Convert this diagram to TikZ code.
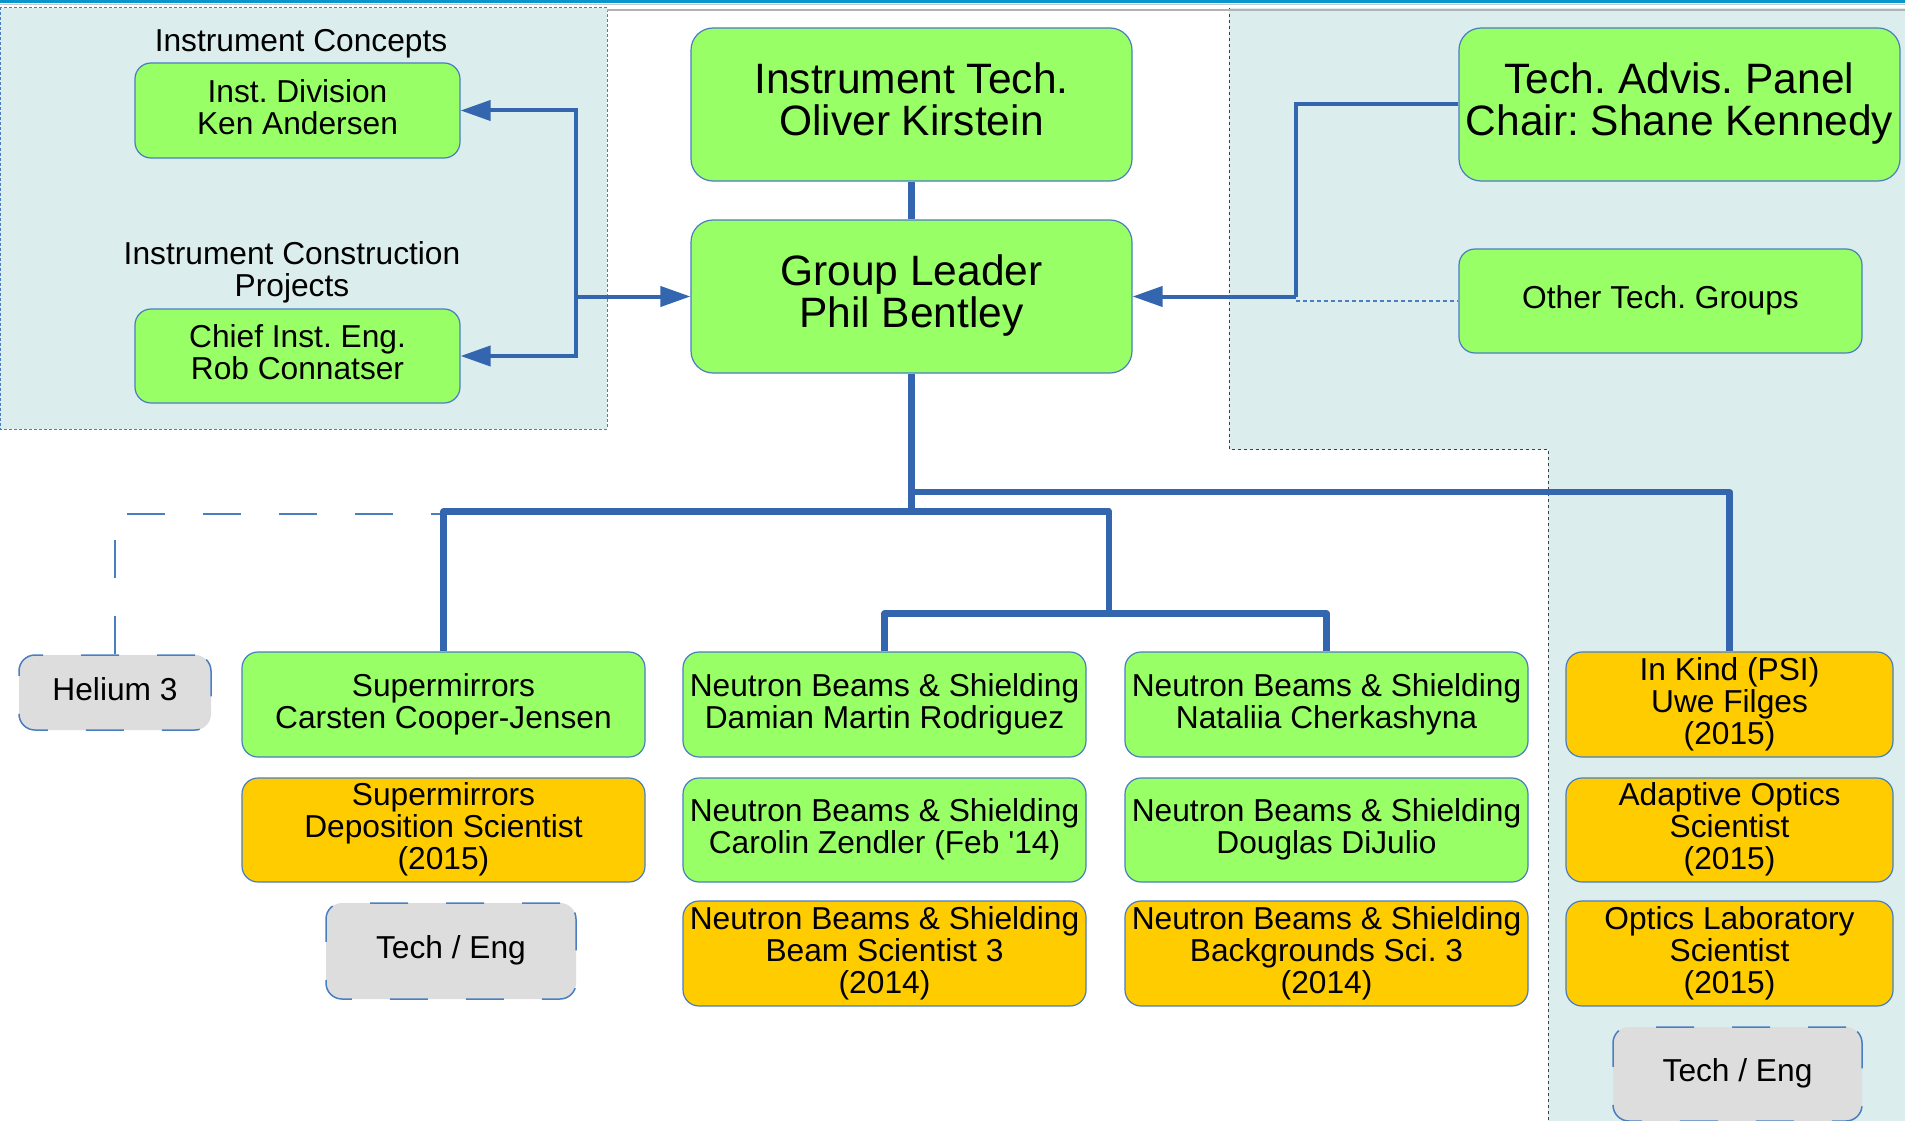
\documentclass[tikz,border=0pt]{standalone}
\usepackage{fontspec}
\setmainfont{Liberation Sans}
\newfontfamily\lsans{Liberation Sans}
\usetikzlibrary{arrows.meta}

\definecolor{boxgreen}{RGB}{153,255,102}
\definecolor{boxyellow}{RGB}{255,204,0}
\definecolor{boxgray}{RGB}{221,221,221}
\definecolor{panelfill}{RGB}{219,237,237}
\definecolor{edgeblue}{RGB}{74,126,194}
\definecolor{linkblue}{RGB}{52,101,175}
\definecolor{topblue}{RGB}{8,150,204}

\newcommand{\smallfnt}{\lsans\fontsize{31.7}{32}\selectfont}
\newcommand{\bigfnt}{\lsans\fontsize{42.5}{42.5}\selectfont}
% uniform line box so every label is centred the same way
\newcommand{\linestrut}{\vrule width 0pt height .75em depth .25em\relax}

\begin{document}
\frenchspacing
\begin{tikzpicture}[x=1pt,y=-1pt,
  every node/.style={inner sep=0pt, align=center, font=\smallfnt, text=black,
    execute at begin node=\linestrut, execute at end node=\linestrut},
  box/.style={draw=edgeblue, line width=1.2pt, rounded corners=16pt},
  bigbox/.style={box, fill=boxgreen, rounded corners=22pt, font=\bigfnt,
    minimum width=441pt, minimum height=153pt},
  gbox/.style={box, fill=boxgreen},
  ybox/.style={box, fill=boxyellow},
  tbox/.style={draw=edgeblue, line width=1.5pt, dash pattern=on 38pt off 38pt,
    rounded corners=16pt, fill=boxgray},
  colbox/.style={minimum width=403pt},
  rowa/.style={minimum height=105pt},
  rowb/.style={minimum height=104pt},
  rowc/.style={minimum height=105pt},
  conn/.style={draw=linkblue, line width=4pt},
  arr/.style={conn, -{Triangle[length=30pt,width=20pt]}},
  tree/.style={draw=linkblue, line width=6.5pt, line join=round},
  thindash/.style={draw=edgeblue, line width=1.2pt, dash pattern=on 4pt off 3pt},
  longdash/.style={draw=edgeblue, line width=1.5pt, dash pattern=on 38pt off 38pt}
]
\useasboundingbox (0,0) rectangle (1905,1121);
\fill[white] (0,0) rectangle (1905,1121);

% shaded panels
\fill[panelfill] (0,8) rectangle (607,429);
\draw[edgeblue, line width=1pt, dash pattern=on 3pt off 2pt] (0.5,7.5) rectangle (607,429);
\fill[panelfill] (1229,8) -- (1905,8) -- (1905,1121) -- (1548,1121) -- (1548,449.5) -- (1229,449.5) -- cycle;
\draw[black!75, line width=1pt, dash pattern=on 3pt off 3pt] (1229,8) -- (1229,449.5) -- (1548,449.5) -- (1548,1121);

% header rules
\fill[topblue] (0,0) rectangle (1905,3.2);
\draw[black!22, line width=1.2pt] (0,4.8) -- (1905,4.8);
\draw[black!30, line width=1.6pt] (607,10) -- (1905,10);

% left panel
\node (ic) at (301,44) {Instrument Concepts};
\node[gbox, minimum width=325pt, minimum height=95pt] (idiv) at (297.5,110.5) {Inst. Division\\Ken Andersen};
\node (icp) at (292,272.5) {Instrument Construction\\Projects};
\node[gbox, minimum width=325pt, minimum height=94pt] (cie) at (297.5,356) {Chief Inst. Eng.\\Rob Connatser};

% centre column
\node[bigbox] (itech) at (911.5,104.5) {Instrument Tech.\\Oliver Kirstein};
\node[bigbox] (gl) at (911.5,296.5) {Group Leader\\Phil Bentley};

% right panel
\node[bigbox] (tap) at (1679.5,104.5) {Tech. Advis. Panel\\Chair: Shane Kennedy};
\node[gbox, minimum width=403pt, minimum height=104pt] (otg) at (1660.5,301) {Other Tech. Groups};

% lower rows
\node[tbox, minimum width=192pt, minimum height=75pt] (he3) at (115,692.5) {Helium 3};

\node[gbox, colbox, rowa] (sm) at (443.5,704.5) {Supermirrors\\Carsten Cooper-Jensen};
\node[ybox, colbox, rowb] (smd) at (443.5,830) {Supermirrors\\Deposition Scientist\\(2015)};
\node[tbox, minimum width=250pt, minimum height=96pt] (te1) at (451,951) {Tech / Eng};

\node[gbox, colbox, rowa] (nb11) at (884.5,704.5) {Neutron Beams \& Shielding\\Damian Martin Rodriguez};
\node[gbox, colbox, rowb] (nb12) at (884.5,830) {Neutron Beams \& Shielding\\Carolin Zendler (Feb '14)};
\node[ybox, colbox, rowc] (nb13) at (884.5,953.5) {Neutron Beams \& Shielding\\Beam Scientist 3\\(2014)};

\node[gbox, colbox, rowa] (nb21) at (1326.5,704.5) {Neutron Beams \& Shielding\\Nataliia Cherkashyna};
\node[gbox, colbox, rowb] (nb22) at (1326.5,830) {Neutron Beams \& Shielding\\Douglas DiJulio};
\node[ybox, colbox, rowc] (nb23) at (1326.5,953.5) {Neutron Beams \& Shielding\\Backgrounds Sci. 3\\(2014)};

\node[ybox, minimum width=327pt, rowa] (ik) at (1729.5,704.5) {In Kind (PSI)\\Uwe Filges\\(2015)};
\node[ybox, minimum width=327pt, rowb] (ao) at (1729.5,830) {Adaptive Optics\\Scientist\\(2015)};
\node[ybox, minimum width=327pt, rowc] (ol) at (1729.5,953.5) {Optics Laboratory\\Scientist\\(2015)};
\node[tbox, minimum width=249pt, minimum height=94pt] (te2) at (1737.5,1074) {Tech / Eng};

% junction points
\coordinate (lj) at (576,296.5);
\coordinate (rj) at (1296,296.5);
\coordinate (lb) at (1109,511.5);
\coordinate (nbj) at (1109,613.5);
\coordinate (hj) at (443.5,514);

% links above the group leader
\draw[tree] (itech.south) -- (gl.north);
\draw[arr] (lj) |- (idiv.east);
\draw[arr] (lj) |- (cie.east);
\draw[arr] (lj) -- (gl.west);
\draw[conn] (tap.west) -| (rj);
\draw[arr] (rj) -- (gl.east);
\draw[thindash] (rj |- otg.west) -- (otg.west);

% reporting tree
\draw[longdash] (he3.north) |- (hj);
\draw[tree] (gl.south) |- (ik.north |- 0,492) -- (ik.north);
\draw[tree] (gl.south) |- (lb);
\draw[tree] (sm.north) |- (lb) -- (nbj);
\draw[tree] (nb11.north) |- (nbj) -| (nb21.north);
\end{tikzpicture}
\end{document}
